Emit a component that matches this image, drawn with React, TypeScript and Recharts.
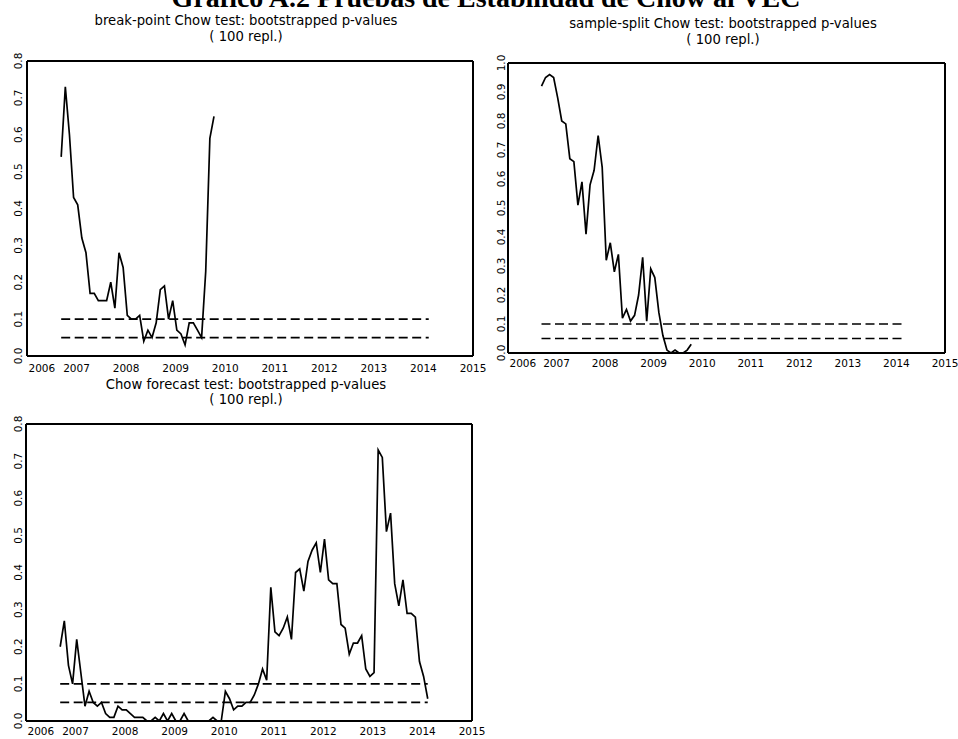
import { Line, LineChart, ReferenceLine, XAxis, YAxis } from "recharts";

// monthly observations, first one is 2006 M9
const START = 2006.69;

const breakPoint = [
  0.54, 0.73, 0.6, 0.43, 0.41, 0.32, 0.28, 0.17, 0.17, 0.15, 0.15, 0.15, 0.2,
  0.13, 0.28, 0.24, 0.11, 0.1, 0.1, 0.11, 0.04, 0.07, 0.05, 0.09, 0.18, 0.19,
  0.1, 0.15, 0.07, 0.06, 0.03, 0.09, 0.09, 0.07, 0.05, 0.23, 0.59, 0.65,
];

const sampleSplit = [
  0.92, 0.95, 0.96, 0.95, 0.88, 0.8, 0.79, 0.67, 0.66, 0.51, 0.59, 0.41, 0.58,
  0.63, 0.75, 0.64, 0.32, 0.38, 0.28, 0.34, 0.12, 0.15, 0.11, 0.13, 0.2, 0.33,
  0.11, 0.29, 0.26, 0.14, 0.06, 0.01, 0.0, 0.01, 0.0, 0.0, 0.01, 0.03,
];

const forecast = [
  0.2, 0.27, 0.15, 0.1, 0.22, 0.13, 0.04, 0.08, 0.05, 0.04, 0.05, 0.02, 0.01,
  0.01, 0.04, 0.03, 0.03, 0.02, 0.01, 0.01, 0.01, 0.0, 0.0, 0.01, 0.0, 0.02,
  0.0, 0.02, 0.0, 0.0, 0.02, 0.0, 0.0, 0.0, 0.0, 0.0, 0.0, 0.01, 0.0, 0.0,
  0.08, 0.06, 0.03, 0.04, 0.04, 0.05, 0.05, 0.07, 0.1, 0.14, 0.11, 0.36, 0.24,
  0.23, 0.25, 0.28, 0.22, 0.4, 0.41, 0.35, 0.43, 0.46, 0.48, 0.4, 0.49, 0.38,
  0.37, 0.37, 0.26, 0.25, 0.18, 0.21, 0.21, 0.23, 0.14, 0.12, 0.13, 0.73, 0.71,
  0.51, 0.56, 0.37, 0.31, 0.38, 0.29, 0.29, 0.28, 0.16, 0.12, 0.06,
];

// critical levels drawn as dashed lines over the whole sample
const critical = [0.1, 0.05];
const critEnd = START + (forecast.length - 1) / 12;

const yearTicks = [2006, 2007, 2008, 2009, 2010, 2011, 2012, 2013, 2014, 2015];
const halfYearTicks = [
  2006, 2006.5, 2007, 2007.5, 2008, 2008.5, 2009, 2009.5, 2010, 2010.5, 2011,
  2011.5, 2012, 2012.5, 2013, 2013.5, 2014, 2014.5, 2015,
];
const yTicks08 = [0, 0.1, 0.2, 0.3, 0.4, 0.5, 0.6, 0.7, 0.8];
const yMinor08 = [
  0, 0.05, 0.1, 0.15, 0.2, 0.25, 0.3, 0.35, 0.4, 0.45, 0.5, 0.55, 0.6, 0.65,
  0.7, 0.75, 0.8,
];
const yTicks10 = [0, 0.1, 0.2, 0.3, 0.4, 0.5, 0.6, 0.7, 0.8, 0.9, 1.0];
const yMinor10 = [
  0, 0.05, 0.1, 0.15, 0.2, 0.25, 0.3, 0.35, 0.4, 0.45, 0.5, 0.55, 0.6, 0.65,
  0.7, 0.75, 0.8, 0.85, 0.9, 0.95, 1.0,
];

const FONT = "'DejaVu Sans', sans-serif";
const frame = { stroke: "#000", strokeWidth: 2 };
const tickStroke = { stroke: "#000", strokeWidth: 1 };

const toRows = (vals: number[]) =>
  vals.map((p, i) => ({ t: START + i / 12, p }));

type PanelProps = {
  left: number;
  top: number;
  width: number;
  height: number;
  plotLeft: number;
  plotRight: number;
  plotTop: number;
  plotBottom: number;
  yMax: number;
  yTicks: number[];
  yMinor: number[];
  values: number[];
  yLabelOff: number;
  xLabelDy: number;
};

function Panel(p: PanelProps) {
  const rows = toRows(p.values);

  const xTick = (props: any) => {
    const { x, y, payload } = props;
    const first = payload.value === 2006;
    return (
      <text
        x={first ? x + 1.5 : x}
        y={y + p.xLabelDy}
        textAnchor={first ? "start" : "middle"}
        fontFamily={FONT}
        fontSize={10.5}
        fill="#000"
      >
        {payload.value}
      </text>
    );
  };

  const yTick = (props: any) => {
    const { x, y, payload } = props;
    const bx = x + p.yLabelOff;
    return (
      <text
        x={bx}
        y={y}
        transform={`rotate(-90, ${bx}, ${y})`}
        textAnchor="middle"
        fontFamily={FONT}
        fontSize={10.5}
        fill="#000"
      >
        {Number(payload.value).toFixed(1)}
      </text>
    );
  };

  return (
    <div style={{ position: "absolute", left: p.left, top: p.top }}>
      <LineChart
        width={p.width}
        height={p.height}
        data={rows}
        margin={{
          top: p.plotTop - p.top,
          right: p.left + p.width - p.plotRight,
          bottom: 0,
          left: 0,
        }}
      >
        <XAxis
          xAxisId="b"
          dataKey="t"
          type="number"
          domain={[2006, 2015]}
          allowDataOverflow
          ticks={yearTicks}
          interval={0}
          height={p.top + p.height - p.plotBottom}
          tickSize={0}
          tickMargin={0}
          tickLine={false}
          axisLine={frame}
          tick={xTick}
        />
        <XAxis
          xAxisId="bm"
          type="number"
          domain={[2006, 2015]}
          allowDataOverflow
          ticks={halfYearTicks}
          interval={0}
          mirror
          tick={false}
          tickSize={5}
          tickLine={tickStroke}
          axisLine={false}
        />
        <XAxis
          xAxisId="t"
          orientation="top"
          type="number"
          domain={[2006, 2015]}
          allowDataOverflow
          ticks={halfYearTicks}
          interval={0}
          mirror
          tick={false}
          tickSize={5}
          tickLine={tickStroke}
          axisLine={frame}
        />
        <YAxis
          yAxisId="l"
          type="number"
          domain={[0, p.yMax]}
          allowDataOverflow
          ticks={p.yTicks}
          interval={0}
          width={p.plotLeft - p.left}
          tickSize={0}
          tickMargin={0}
          tickLine={false}
          axisLine={frame}
          tick={yTick}
        />
        <YAxis
          yAxisId="lm"
          type="number"
          domain={[0, p.yMax]}
          allowDataOverflow
          ticks={p.yMinor}
          interval={0}
          mirror
          tick={false}
          tickSize={5}
          tickLine={tickStroke}
          axisLine={false}
        />
        <YAxis
          yAxisId="r"
          orientation="right"
          type="number"
          domain={[0, p.yMax]}
          allowDataOverflow
          ticks={p.yMinor}
          interval={0}
          mirror
          tick={false}
          tickSize={5}
          tickLine={tickStroke}
          axisLine={frame}
        />
        {critical.map((c) => (
          <ReferenceLine
            key={c}
            xAxisId="b"
            yAxisId="l"
            segment={[
              { x: START, y: c },
              { x: critEnd, y: c },
            ]}
            stroke="#000"
            strokeWidth={1.7}
            strokeDasharray="9 4.5"
            ifOverflow="visible"
          />
        ))}
        <Line
          xAxisId="b"
          yAxisId="l"
          dataKey="p"
          type="linear"
          stroke="#000"
          strokeWidth={1.7}
          dot={false}
          isAnimationActive={false}
        />
      </LineChart>
    </div>
  );
}

function Title({ x, y, lines }: { x: number; y: number[]; lines: string[] }) {
  return (
    <>
      {lines.map((s, i) => (
        <text
          key={i}
          x={x}
          y={y[i]}
          textAnchor="middle"
          fontFamily={FONT}
          fontSize={13.2}
          fill="#000"
          xmlSpace="preserve"
        >
          {s}
        </text>
      ))}
    </>
  );
}

export default function App() {
  return (
    <div
      style={{
        position: "absolute",
        left: 0,
        top: 0,
        width: 958,
        height: 739,
        background: "#fff",
        overflow: "hidden",
      }}
    >
      <Panel
        left={0}
        top={0}
        width={490}
        height={380}
        plotLeft={27}
        plotRight={473}
        plotTop={61}
        plotBottom={356}
        yMax={0.8}
        yTicks={yTicks08}
        yMinor={yMinor08}
        values={breakPoint}
        yLabelOff={-5.5}
        xLabelDy={15.6}
      />
      <Panel
        left={480}
        top={0}
        width={478}
        height={380}
        plotLeft={508}
        plotRight={945}
        plotTop={63}
        plotBottom={353}
        yMax={1.0}
        yTicks={yTicks10}
        yMinor={yMinor10}
        values={sampleSplit}
        yLabelOff={-3.5}
        xLabelDy={13.6}
      />
      <Panel
        left={0}
        top={400}
        width={490}
        height={339}
        plotLeft={26}
        plotRight={472}
        plotTop={424}
        plotBottom={721}
        yMax={0.8}
        yTicks={yTicks08}
        yMinor={yMinor08}
        values={forecast}
        yLabelOff={-4.5}
        xLabelDy={13.6}
      />
      <svg
        width={958}
        height={739}
        style={{ position: "absolute", left: 0, top: 0, pointerEvents: "none" }}
      >
        <text
          x={486}
          y={6.5}
          textAnchor="middle"
          fontFamily="'Liberation Serif', 'Times New Roman', serif"
          fontWeight="bold"
          fontSize={28}
          fill="#000"
        >
          Gráfico A.2 Pruebas de Estabilidad de Chow al VEC
        </text>
        <Title
          x={246}
          y={[25, 40.5]}
          lines={["break-point Chow test: bootstrapped p-values", "( 100 repl.)"]}
        />
        <Title
          x={723}
          y={[28, 43.5]}
          lines={["sample-split Chow test: bootstrapped p-values", "( 100 repl.)"]}
        />
        <Title
          x={246}
          y={[388.5, 404]}
          lines={["Chow forecast test: bootstrapped p-values", "( 100 repl.)"]}
        />
      </svg>
    </div>
  );
}
